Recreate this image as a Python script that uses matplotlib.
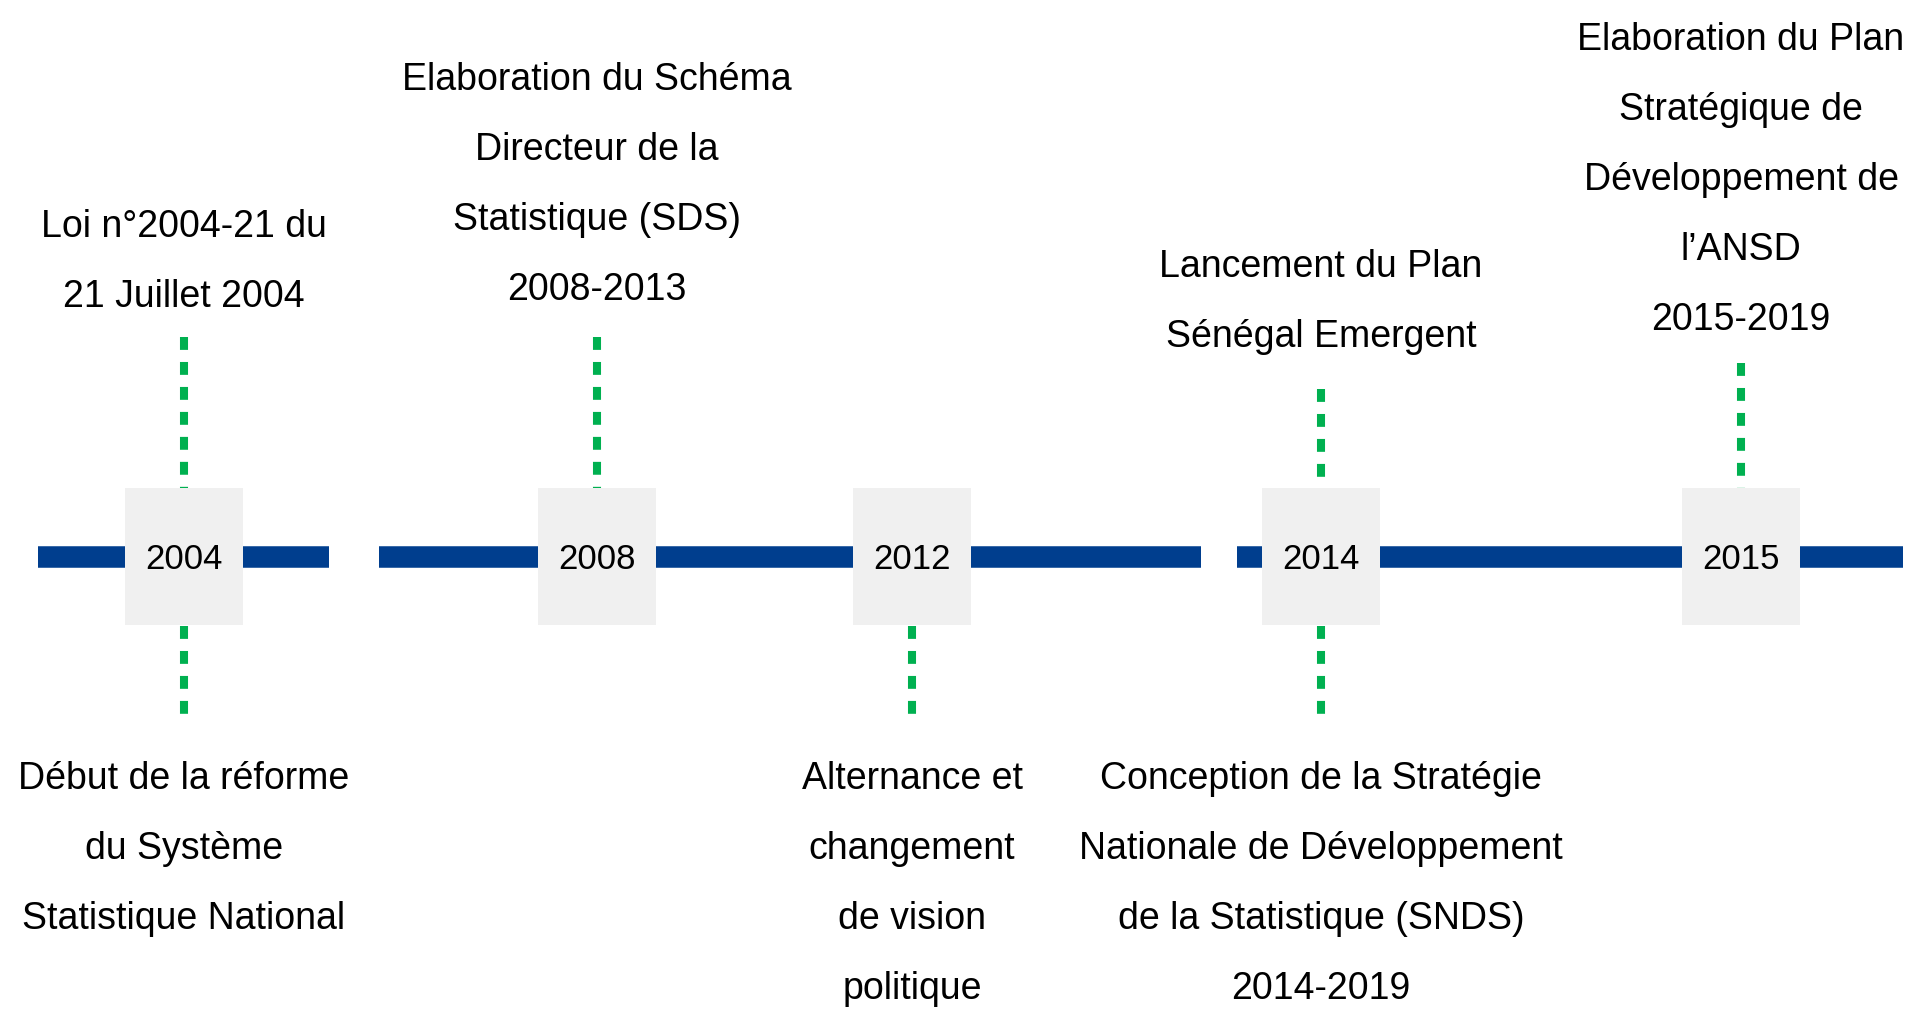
import matplotlib
matplotlib.use("Agg")
import matplotlib.pyplot as plt
from matplotlib import font_manager
from matplotlib.patches import Rectangle

# timeline content
years = ["2004", "2008", "2012", "2014", "2015"]
labels_above = {
    "2004": ["Loi n°2004-21 du", "21 Juillet 2004"],
    "2008": ["Elaboration du Schéma", "Directeur de la", "Statistique (SDS)", "2008-2013"],
    "2014": ["Lancement du Plan", "Sénégal Emergent"],
    "2015": ["Elaboration du Plan", "Stratégique de", "Développement de", "l’ANSD", "2015-2019"],
}
labels_below = {
    "2004": ["Début de la réforme", "du Système", "Statistique National"],
    "2012": ["Alternance et", "changement", "de vision", "politique"],
    "2014": ["Conception de la Stratégie", "Nationale de Développement",
             "de la Statistique (SNDS)", "2014-2019"],
}

# layout (pixel coordinates of the picture)
W, H = 1919, 1013
box_x = [184, 597, 912, 1321, 1741]
line_y = 557
segments = [(38, 329), (379, 1201), (1237, 1903)]
top_of_stem = {"2004": 337, "2008": 337, "2014": 389, "2015": 363}
text_gap = {"2004": 40, "2008": 47, "2014": 52, "2015": 43}
stem_bottom = 725
box_w, box_h = 118, 137
row_h = 70
first_below = 779

names = {f.name for f in font_manager.fontManager.ttflist}
if "Liberation Sans Narrow" in names:
    family, fsize, ysize = "Liberation Sans Narrow", 31, 30
else:
    family, fsize, ysize = "Liberation Sans", 27, 25

blue = "#003E8E"
green = "#00B050"

fig = plt.figure(figsize=(W / 100, H / 100), dpi=100)
ax = fig.add_axes([0, 0, 1, 1])
ax.set_xlim(0, W)
ax.set_ylim(H, 0)
ax.axis("off")

for x0, x1 in segments:
    ax.plot([x0, x1], [line_y, line_y], color=blue, lw=15.5,
            solid_capstyle="butt", zorder=1)

for yr, x in zip(years, box_x):
    ax.add_patch(Rectangle((x - box_w / 2, line_y - box_h / 2 - 1), box_w, box_h,
                           facecolor="#F0F0F0", edgecolor="none", zorder=3))
    ax.text(x, line_y + 2, yr, ha="center", va="center", fontsize=ysize,
            family=family, color="black", zorder=4)
    if yr in labels_above:
        y0 = top_of_stem[yr]
        ax.plot([x, x], [y0, line_y - box_h / 2], color=green, lw=5.8,
                linestyle=(0, (1.6, 1.5)), dash_capstyle="butt", zorder=2)
        rows = labels_above[yr]
        for i, row in enumerate(rows):
            y = y0 - text_gap[yr] - (len(rows) - 1 - i) * row_h
            ax.text(x, y, row, ha="center", va="center", fontsize=fsize,
                    family=family, color="black")
    if yr in labels_below:
        ax.plot([x, x], [line_y + box_h / 2, stem_bottom], color=green, lw=5.8,
                linestyle=(0, (1.6, 1.5)), dash_capstyle="butt", zorder=2)
        for i, row in enumerate(labels_below[yr]):
            ax.text(x, first_below + i * row_h, row, ha="center", va="center",
                    fontsize=fsize, family=family, color="black")

fig.savefig("out.png", dpi=100, facecolor="white")
